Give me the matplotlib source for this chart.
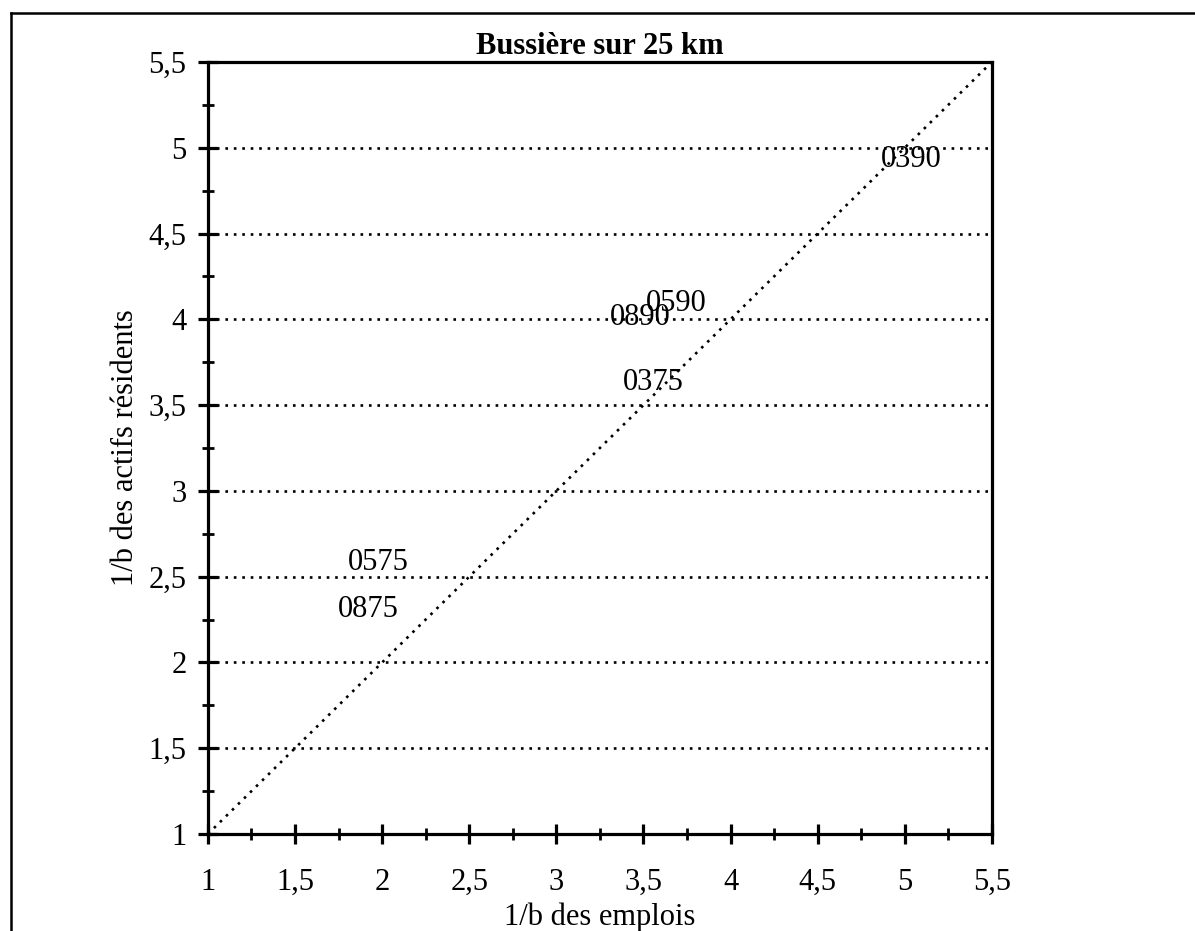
import matplotlib
matplotlib.use("Agg")
import matplotlib.pyplot as plt
from matplotlib.lines import Line2D
from matplotlib.ticker import MultipleLocator, FuncFormatter

labels = ["0390", "0590", "0890", "0375", "0575", "0875"]
x_emplois = [5.04, 3.69, 3.48, 3.555, 1.976, 1.92]
y_actifs = [4.93, 4.09, 4.01, 3.63, 2.58, 2.31]

title = "Bussière sur 25 km"
xlabel = "1/b des emplois"
ylabel = "1/b des actifs résidents"
axis_min, axis_max = 1.0, 5.5

plt.rcParams['font.family'] = ['Liberation Serif', 'DejaVu Serif']
FS = 22

fig = plt.figure(figsize=(11.95, 9.31), dpi=100)
ax = fig.add_axes([0.174, 0.1042, 0.830 - 0.174, 0.9334 - 0.1042])
ax.set_xlim(axis_min, axis_max)
ax.set_ylim(axis_min, axis_max)

dot = (0, (1, 2.2))
for yv in [1.5, 2, 2.5, 3, 3.5, 4, 4.5, 5]:
    ax.axhline(yv, color='black', lw=1.9, linestyle=dot, zorder=1)
ax.plot([axis_min, axis_max], [axis_min, axis_max], color='black', lw=1.9,
        linestyle=dot, zorder=1)

for lab, xv, yv in zip(labels, x_emplois, y_actifs):
    ax.text(xv, yv, lab, ha='center', va='center', fontsize=FS, zorder=3)

for s in ax.spines.values():
    s.set_linewidth(2.3)
ax.xaxis.set_major_locator(MultipleLocator(0.5))
ax.yaxis.set_major_locator(MultipleLocator(0.5))
ax.xaxis.set_minor_locator(MultipleLocator(0.25))
ax.yaxis.set_minor_locator(MultipleLocator(0.25))
fmt = FuncFormatter(lambda v, p: (f"{v:g}").replace('.', ','))
ax.xaxis.set_major_formatter(fmt)
ax.yaxis.set_major_formatter(fmt)
ax.tick_params(which='major', direction='inout', length=15, width=2.3,
               labelsize=FS, pad=8)
ax.tick_params(which='minor', direction='inout', length=8, width=2)
ax.tick_params(axis='x', which='major', pad=17)

ax.set_xlabel(xlabel, fontsize=FS, labelpad=4)
ax.set_ylabel(ylabel, fontsize=FS, labelpad=6)
ax.set_title(title, fontsize=FS, fontweight='bold', pad=6)

fig.add_artist(Line2D([11 / 1195, 11 / 1195], [0, 1 - 13 / 931],
                      transform=fig.transFigure, color='black', lw=1.8))
fig.add_artist(Line2D([11 / 1195, 1.0], [1 - 13 / 931, 1 - 13 / 931],
                      transform=fig.transFigure, color='black', lw=1.8))

fig.savefig("out.png", dpi=100)
